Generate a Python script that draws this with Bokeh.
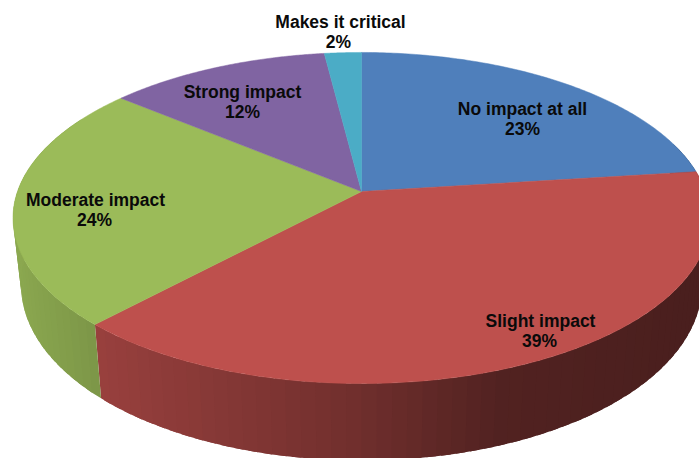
import numpy as np
from bokeh.plotting import figure
from bokeh.models import Range1d
from bokeh.core.properties import value
from bokeh.embed import file_html
from bokeh.resources import INLINE

categories = ["No impact at all", "Slight impact", "Moderate impact", "Strong impact", "Makes it critical"]
percents = [23, 39, 24, 12, 2]
colors = ["#4f7fbb", "#be504d", "#9bbb59", "#8064a2", "#4bacc6"]

# layout: apex of the tilted pie and its perspective
CX, CY, A, B, K = 361.0, 191.0, 344.0, 161.3, 0.16
label_x = [522, 540, 95, 242, 340]
label_y = [108, 320, 199, 91, 21]
pct_x = [522, 539, 94, 242, 338]
pct_y = [128, 340, 219, 111, 41]


def top_point(frac):
    t = np.asarray(frac) * 2 * np.pi
    s = -np.cos(t)
    d = 1 - K * s
    return CX + A * np.sin(t) / d, CY + B * s / d, s


def bottom_point(frac):
    x, y, s = top_point(frac)
    return CX + (x - CX) * 0.977, y + 65 + 12 * s


def shade(hex_color, f):
    r, g, b = (int(hex_color[i:i + 2], 16) for i in (1, 3, 5))
    return "#%02x%02x%02x" % (int(r * f), int(g * f), int(b * f))


p = figure(width=699, height=458, output_backend="svg", toolbar_location=None,
           x_range=Range1d(0, 699), y_range=Range1d(458, 0), min_border=0,
           margin=(0, 0, 0, 0))
p.axis.visible = False
p.grid.visible = False
p.outline_line_color = None
p.background_fill_color = "white"

fractions = np.cumsum([0] + percents) / sum(percents)

# side wall: narrow overlapping strips, darkening to the right, drawn right to left
xs, ys, cs = [], [], []
for i, col in enumerate(colors):
    lo, hi = max(fractions[i], 0.2), min(fractions[i + 1], 0.83)
    if hi <= lo:
        continue
    edges = np.arange(lo, hi, 0.006).tolist() + [hi]
    for a, b in zip(edges[:-1], edges[1:]):
        c = min(b + 0.004, hi)
        f = np.array([a, b, c])
        tx, ty, _ = top_point(f)
        bx, by = bottom_point(f)
        xs.append([tx[0], tx[1], tx[2], bx[2], bx[1], bx[0]])
        ys.append([ty[0], ty[1], ty[2], by[2], by[1], by[0]])
        mid = (tx[0] + tx[1]) / 2
        cs.append(shade(col, float(np.interp(mid, [13, 100, 350, 500, 700], [0.9, 0.8, 0.6, 0.43, 0.39]))))
p.patches(xs, ys, fill_color=cs, line_color=None)

# top face
for i, col in enumerate(colors):
    f = np.linspace(fractions[i], fractions[i + 1], 120)
    x, y, _ = top_point(f)
    p.patch(np.r_[CX, x], np.r_[CY, y], fill_color=col, line_color=col, line_width=0.5)

font = value("Liberation Sans")
p.text(label_x, label_y, text=categories, text_font=font, text_font_style="bold",
       text_font_size="17.5px", text_align="center", text_baseline="middle", text_color="#0a0a0a")
p.text(pct_x, pct_y, text=[f"{v}%" for v in percents], text_font=font, text_font_style="bold",
       text_font_size="17.5px", text_align="center", text_baseline="middle", text_color="#0a0a0a")

open("out.html", "w").write(file_html(p, INLINE))
